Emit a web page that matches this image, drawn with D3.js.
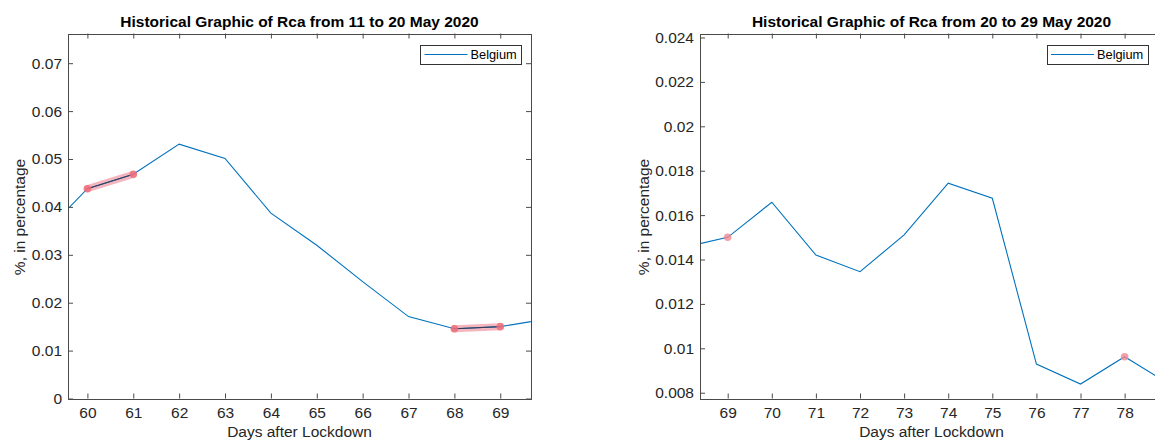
<!DOCTYPE html>
<html>
<head>
<meta charset="utf-8">
<script src="https://cdn.jsdelivr.net/npm/d3@7"></script>
<style>
  html, body { margin: 0; padding: 0; background: #fff; }
  svg { display: block; font-family: "Liberation Sans", Arial, Helvetica, sans-serif; }
</style>
</head>
<body>
<svg id="chart" width="1155" height="441"></svg>
<script>
// ---- Data ----
const days = [59, 60, 61, 62, 63, 64, 65, 66, 67, 68, 69, 70, 71, 72, 73, 74, 75, 76, 77, 78, 79];
const rcaBelgium = [0.0339, 0.0438, 0.0468, 0.0531, 0.0501, 0.0387, 0.0320, 0.0244, 0.0171, 0.01455, 0.0150,
                    0.01658, 0.0142, 0.01345, 0.01511, 0.01744, 0.01676, 0.00929, 0.00839, 0.00962, 0.0084];
const seriesName = "Belgium";

const leftTitle = "Historical Graphic of Rca from 11 to 20 May 2020";
const rightTitle = "Historical Graphic of Rca from 20 to 29 May 2020";
const xLabel = "Days after Lockdown";
const yLabel = "%, in percentage";

const leftXTicks = [60, 61, 62, 63, 64, 65, 66, 67, 68, 69];
const leftYTicks = [0, 0.01, 0.02, 0.03, 0.04, 0.05, 0.06, 0.07];
const leftYTickLabels = ["0", "0.01", "0.02", "0.03", "0.04", "0.05", "0.06", "0.07"];
const leftXDomain = [59.577, 69.67];
const leftYDomain = [0, 0.0762];
const leftHighlightSegments = [[60, 61], [68, 69]];
const leftHighlightPoints = [];

const rightXTicks = [69, 70, 71, 72, 73, 74, 75, 76, 77, 78];
const rightYTicks = [0.008, 0.010, 0.012, 0.014, 0.016, 0.018, 0.020, 0.022, 0.024];
const rightYTickLabels = ["0.008", "0.01", "0.012", "0.014", "0.016", "0.018", "0.02", "0.022", "0.024"];
const rightXDomain = [68.372, 78.87];
const rightYDomain = [0.00774, 0.02418];
const rightHighlightSegments = [];
const rightHighlightPoints = [69, 78];

// ---- Layout ----
const panels = [
  { id: "L", x0: 68, x1: 531, y0: 33.5, y1: 398.5, title: leftTitle,
    xDomain: leftXDomain, yDomain: leftYDomain, xTicks: leftXTicks,
    yTicks: leftYTicks, yTickLabels: leftYTickLabels, ylabelX: 25,
    segs: leftHighlightSegments, pts: leftHighlightPoints, legendRight: 521.5 },
  { id: "R", x0: 700, x1: 1163, y0: 33.5, y1: 398.5, title: rightTitle,
    xDomain: rightXDomain, yDomain: rightYDomain, xTicks: rightXTicks,
    yTicks: rightYTicks, yTickLabels: rightYTickLabels, ylabelX: 649,
    segs: rightHighlightSegments, pts: rightHighlightPoints, legendRight: 1148 }
];

const svg = d3.select("#chart");
const data = days.map((d, i) => ({ day: d, v: rcaBelgium[i] }));
const axisColor = "#4a4a4a";
const textColor = "#262626";
const lineColor = "#0072BD";
const FONT = 15.5;

panels.forEach(p => {
  const x = d3.scaleLinear().domain(p.xDomain).range([p.x0, p.x1]);
  const y = d3.scaleLinear().domain(p.yDomain).range([p.y1, p.y0]);
  const g = svg.append("g");

  svg.append("clipPath").attr("id", "clip" + p.id)
    .append("rect").attr("x", p.x0).attr("y", p.y0)
    .attr("width", p.x1 - p.x0).attr("height", p.y1 - p.y0);

  const plot = g.append("g").attr("clip-path", `url(#clip${p.id})`);

  // highlight bands
  p.segs.forEach(s => {
    const segData = data.filter(d => d.day >= s[0] && d.day <= s[1]);
    plot.append("path").datum(segData)
      .attr("d", d3.line().x(d => x(d.day)).y(d => y(d.v)))
      .attr("fill", "none").attr("stroke", "#f2a3ad").attr("stroke-opacity", 0.8)
      .attr("stroke-width", 7).attr("stroke-linecap", "round");
  });

  // main line
  plot.append("path").datum(data)
    .attr("d", d3.line().x(d => x(d.day)).y(d => y(d.v)))
    .attr("fill", "none").attr("stroke", lineColor).attr("stroke-width", 1.1);

  // dark line within highlighted segments
  p.segs.forEach(s => {
    const segData = data.filter(d => d.day >= s[0] && d.day <= s[1]);
    plot.append("path").datum(segData)
      .attr("d", d3.line().x(d => x(d.day)).y(d => y(d.v)))
      .attr("fill", "none").attr("stroke", "#3a3a55").attr("stroke-width", 1);
    segData.filter(d => d.day === s[0] || d.day === s[1]).forEach(d => {
      plot.append("circle").attr("cx", x(d.day)).attr("cy", y(d.v)).attr("r", 3.8)
        .attr("fill", "#ee6f7a").attr("fill-opacity", 0.85);
    });
  });
  p.pts.forEach(pd => {
    const d = data.find(e => e.day === pd);
    plot.append("circle").attr("cx", x(d.day)).attr("cy", y(d.v)).attr("r", 3.8)
      .attr("fill", "#f08a92").attr("fill-opacity", 0.8);
  });

  // axes (box with inward ticks on all sides)
  const tl = 5;
  const bottom = d3.axisBottom(x).tickValues(p.xTicks).tickSize(-tl).tickPadding(8).tickFormat(d3.format("d"));
  const top = d3.axisTop(x).tickValues(p.xTicks).tickSize(-tl).tickFormat("");
  const left = d3.axisLeft(y).tickValues(p.yTicks).tickSize(-tl).tickPadding(6)
    .tickFormat((d, i) => p.yTickLabels[i]);
  const right = d3.axisRight(y).tickValues(p.yTicks).tickSize(-tl).tickFormat("");

  const gb = g.append("g").attr("transform", `translate(0,${p.y1})`).call(bottom);
  const gt = g.append("g").attr("transform", `translate(0,${p.y0})`).call(top);
  const gl = g.append("g").attr("transform", `translate(${p.x0},0)`).call(left);
  const gr = g.append("g").attr("transform", `translate(${p.x1},0)`).call(right);

  [gb, gt, gl, gr].forEach(a => {
    a.select(".domain").attr("stroke", axisColor).attr("stroke-width", 1).attr("shape-rendering", "crispEdges");
    a.selectAll(".tick line").attr("stroke", axisColor).attr("stroke-width", 1);
    a.selectAll(".tick text").attr("fill", textColor).style("font-size", FONT + "px")
      .style("font-family", '"Liberation Sans", Arial, sans-serif');
  });

  // title
  g.append("text").attr("x", (p.x0 + p.x1) / 2).attr("y", 26.5)
    .attr("text-anchor", "middle").attr("font-weight", "bold")
    .style("font-size", FONT + "px").attr("fill", "#000").text(p.title);

  // x label
  g.append("text").attr("x", (p.x0 + p.x1) / 2).attr("y", 437)
    .attr("text-anchor", "middle").style("font-size", FONT + "px")
    .attr("fill", textColor).text(xLabel);

  // y label
  g.append("text")
    .attr("transform", `translate(${p.ylabelX},${(p.y0 + p.y1) / 2 + 1}) rotate(-90)`)
    .attr("text-anchor", "middle").style("font-size", FONT + "px")
    .attr("fill", textColor).text(yLabel);

  // legend
  const lw = 101, lh = 19;
  const lx = p.legendRight - lw, ly = 45;
  const lg = g.append("g");
  lg.append("rect").attr("x", lx).attr("y", ly).attr("width", lw).attr("height", lh)
    .attr("fill", "#fff").attr("stroke", "#333").attr("stroke-width", 1).attr("shape-rendering", "crispEdges");
  lg.append("line").attr("x1", lx + 4).attr("x2", lx + 47)
    .attr("y1", ly + lh / 2).attr("y2", ly + lh / 2)
    .attr("stroke", lineColor).attr("stroke-width", 1.1);
  lg.append("text").attr("x", lx + 50).attr("y", ly + lh / 2 + 4.5)
    .style("font-size", "12.8px").attr("fill", "#000").text(seriesName);
});
</script>
</body>
</html>
